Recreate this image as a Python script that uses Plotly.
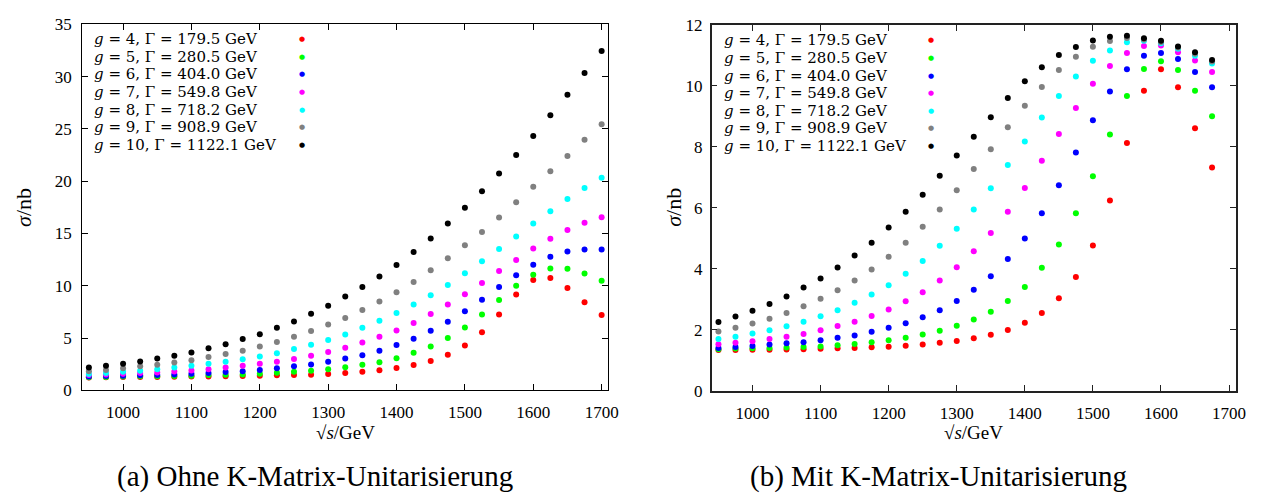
import plotly.graph_objects as go

# ---------------- data ----------------
energy_a = [950, 975, 1000, 1025, 1050, 1075, 1100, 1125, 1150, 1175, 1200, 1225, 1250, 1275, 1300,
            1325, 1350, 1375, 1400, 1425, 1450, 1475, 1500, 1525, 1550, 1575, 1600, 1625, 1650, 1675, 1700]
energy_b = [950, 975, 1000, 1025, 1050, 1075, 1100, 1125, 1150, 1175, 1200, 1225, 1250, 1275, 1300,
            1325, 1350, 1375, 1400, 1425, 1450, 1475, 1500, 1525, 1550, 1575, 1600, 1625, 1650, 1675]

g_values = [4, 5, 6, 7, 8, 9, 10]
widths = ["179.5", "280.5", "404.0", "549.8", "718.2", "908.9", "1122.1"]
colors = ["#ff0000", "#00ff00", "#0000ff", "#ff00ff", "#00ffff", "#808080", "#000000"]

# (a) ohne K-Matrix-Unitarisierung
sigma_a_g4 = [1.23, 1.26, 1.29, 1.29, 1.29, 1.30, 1.32, 1.33, 1.35, 1.38, 1.41, 1.44, 1.47, 1.50, 1.56,
              1.66, 1.78, 1.93, 2.15, 2.42, 2.82, 3.40, 4.29, 5.55, 7.27, 9.17, 10.55, 10.74, 9.79, 8.44, 7.21]
sigma_a_g5 = [1.26, 1.29, 1.32, 1.35, 1.35, 1.38, 1.41, 1.47, 1.50, 1.53, 1.60, 1.69, 1.78, 1.87, 2.02,
              2.21, 2.45, 2.70, 3.07, 3.59, 4.20, 5.00, 6.01, 7.27, 8.65, 10.00, 11.07, 11.66, 11.63, 11.17, 10.49]
sigma_a_g6 = [1.32, 1.38, 1.41, 1.44, 1.47, 1.53, 1.60, 1.66, 1.75, 1.84, 1.96, 2.12, 2.30, 2.48, 2.73,
              3.04, 3.37, 3.80, 4.33, 4.94, 5.71, 6.56, 7.58, 8.68, 9.88, 11.01, 12.02, 12.79, 13.28, 13.47, 13.47]
sigma_a_g7 = [1.47, 1.53, 1.60, 1.66, 1.72, 1.81, 1.90, 2.02, 2.18, 2.36, 2.55, 2.73, 3.00, 3.31, 3.68,
              4.08, 4.57, 5.12, 5.74, 6.44, 7.30, 8.22, 9.20, 10.28, 11.41, 12.48, 13.56, 14.51, 15.34, 16.04, 16.56]
sigma_a_g8 = [1.56, 1.66, 1.78, 1.87, 2.02, 2.18, 2.36, 2.55, 2.73, 2.98, 3.25, 3.56, 3.96, 4.36, 4.82,
              5.34, 5.98, 6.66, 7.39, 8.22, 9.11, 10.09, 11.20, 12.36, 13.53, 14.72, 15.95, 17.12, 18.31, 19.35, 20.33]
sigma_a_g9 = [1.84, 1.96, 2.12, 2.30, 2.45, 2.67, 2.88, 3.19, 3.47, 3.80, 4.20, 4.63, 5.12, 5.67, 6.29,
              6.93, 7.70, 8.50, 9.39, 10.37, 11.50, 12.64, 13.87, 15.15, 16.53, 18.00, 19.48, 20.95, 22.42, 23.98, 25.46]
sigma_a_g10 = [2.20, 2.36, 2.55, 2.76, 3.04, 3.31, 3.62, 4.02, 4.42, 4.91, 5.37, 5.98, 6.60, 7.33, 8.10,
               8.99, 9.89, 10.90, 12.00, 13.23, 14.52, 15.96, 17.46, 19.04, 20.73, 22.51, 24.32, 26.32, 28.28, 30.34, 32.46]

# (b) mit K-Matrix-Unitarisierung
sigma_b_g4 = [1.33, 1.33, 1.34, 1.34, 1.35, 1.36, 1.37, 1.39, 1.40, 1.42, 1.44, 1.47, 1.51, 1.57, 1.63,
              1.72, 1.83, 1.99, 2.23, 2.55, 3.03, 3.73, 4.76, 6.24, 8.12, 9.84, 10.54, 9.95, 8.61, 7.32]
sigma_b_g5 = [1.36, 1.38, 1.39, 1.40, 1.41, 1.43, 1.45, 1.49, 1.53, 1.59, 1.65, 1.73, 1.84, 1.96, 2.13,
              2.33, 2.59, 2.94, 3.40, 4.03, 4.79, 5.82, 7.03, 8.40, 9.67, 10.55, 10.81, 10.52, 9.84, 9.00]
sigma_b_g6 = [1.40, 1.43, 1.46, 1.51, 1.55, 1.59, 1.65, 1.73, 1.81, 1.93, 2.06, 2.21, 2.41, 2.64, 2.94,
              3.31, 3.75, 4.32, 4.99, 5.82, 6.74, 7.81, 8.87, 9.81, 10.54, 10.99, 11.08, 10.88, 10.45, 9.95]
sigma_b_g7 = [1.52, 1.57, 1.62, 1.69, 1.77, 1.86, 1.98, 2.12, 2.26, 2.45, 2.66, 2.93, 3.23, 3.61, 4.05,
              4.57, 5.17, 5.87, 6.65, 7.54, 8.42, 9.27, 10.07, 10.65, 11.08, 11.31, 11.32, 11.10, 10.83, 10.45]
sigma_b_g8 = [1.69, 1.77, 1.87, 1.98, 2.11, 2.26, 2.44, 2.64, 2.88, 3.15, 3.46, 3.83, 4.25, 4.75, 5.31,
              5.94, 6.64, 7.40, 8.17, 8.96, 9.67, 10.31, 10.82, 11.16, 11.43, 11.48, 11.40, 11.22, 10.99, 10.73]
sigma_b_g9 = [1.94, 2.06, 2.20, 2.36, 2.55, 2.77, 3.01, 3.29, 3.61, 3.97, 4.39, 4.85, 5.38, 5.94, 6.57,
              7.27, 7.92, 8.64, 9.35, 9.96, 10.52, 10.95, 11.28, 11.47, 11.57, 11.52, 11.44, 11.26, 11.05, 10.80]
sigma_b_g10 = [2.25, 2.43, 2.62, 2.84, 3.09, 3.38, 3.68, 4.04, 4.43, 4.85, 5.35, 5.87, 6.43, 7.05, 7.71,
               8.33, 8.97, 9.60, 10.15, 10.61, 11.01, 11.27, 11.49, 11.61, 11.64, 11.56, 11.48, 11.29, 11.10, 10.85]

x_ticks = [1000, 1100, 1200, 1300, 1400, 1500, 1600, 1700]
y_ticks_a = [0, 5, 10, 15, 20, 25, 30, 35]
y_ticks_b = [0, 2, 4, 6, 8, 10, 12]

caption_a = "(a) Ohne K-Matrix-Unitarisierung"
caption_b = "(b) Mit K-Matrix-Unitarisierung"
x_title = "√<i>s</i>/GeV"
y_title = "<i>σ</i>/nb"

series_a = [sigma_a_g4, sigma_a_g5, sigma_a_g6, sigma_a_g7, sigma_a_g8, sigma_a_g9, sigma_a_g10]
series_b = [sigma_b_g4, sigma_b_g5, sigma_b_g6, sigma_b_g7, sigma_b_g8, sigma_b_g9, sigma_b_g10]

# ---------------- layout helpers ----------------
W, H = 1268, 499
FONT = "Liberation Serif"
LEG_FONT = "DejaVu Serif"


def px(x):
    return x / W


def py(y):
    return 1 - y / H


fig = go.Figure()
for g, col, ys in zip(g_values, colors, series_a):
    fig.add_trace(go.Scatter(x=energy_a, y=ys, mode="markers", name=f"g = {g}",
                             marker=dict(color=col, size=6, line=dict(width=0)),
                             xaxis="x", yaxis="y", showlegend=False))
for g, col, ys in zip(g_values, colors, series_b):
    fig.add_trace(go.Scatter(x=energy_b, y=ys, mode="markers", name=f"g = {g}",
                             marker=dict(color=col, size=6, line=dict(width=0)),
                             xaxis="x2", yaxis="y2", showlegend=False))


def axis_style(lw, lc):
    return dict(showline=True, linecolor=lc, linewidth=lw, mirror="ticks",
                ticks="inside", ticklen=6, tickcolor=lc, tickwidth=1,
                showgrid=False, zeroline=False,
                tickfont=dict(family=FONT, size=17, color="black"))


fig.update_layout(
    width=W, height=H,
    margin=dict(l=0, r=0, t=0, b=0),
    paper_bgcolor="white", plot_bgcolor="white",
    font=dict(family=FONT, size=17, color="black"),
    showlegend=False,
    xaxis=dict(domain=[px(82.7), px(613.3)], range=[940, 1710], anchor="y",
               tickvals=x_ticks, ticklabelstandoff=6, **axis_style(1, "black")),
    yaxis=dict(domain=[py(396.5), py(16)], range=[0, 35], anchor="x",
               tickvals=y_ticks_a, ticklabelstandoff=6, **axis_style(1, "black")),
    xaxis2=dict(domain=[px(717.3), px(1245.7)], range=[940, 1710], anchor="y2",
                tickvals=x_ticks, ticklabelstandoff=6, **axis_style(1.6, "#222222")),
    yaxis2=dict(domain=[py(396.7), py(16.5)], range=[0, 12], anchor="x2",
                tickvals=y_ticks_b, ticklabelstandoff=4, **axis_style(1.6, "#222222")),
)

ann = []
# axis titles
for cx in [348, 981.5]:
    ann.append(dict(x=px(cx), y=py(440), xref="paper", yref="paper", text=x_title,
                    showarrow=False, xanchor="center", yanchor="middle",
                    font=dict(family=FONT, size=19)))
for cx in [23, 679]:
    ann.append(dict(x=px(cx), y=py(206), xref="paper", yref="paper", text=y_title,
                    showarrow=False, xanchor="center", yanchor="middle", textangle=-90,
                    font=dict(family=FONT, size=22)))
# captions
for cx, cap in [(317, caption_a), (946, caption_b)]:
    ann.append(dict(x=px(cx), y=py(486), xref="paper", yref="paper", text=cap,
                    showarrow=False, xanchor="center", yanchor="middle",
                    font=dict(family=FONT, size=29)))
# legends (text + coloured dot on the right, gnuplot style)
for (tx, bx, y0) in [(93, 304, 31.3), (727.7, 938.3, 32.7)]:
    for i, (g, w, col) in enumerate(zip(g_values, widths, colors)):
        yy = y0 + i * 18.3
        ann.append(dict(x=px(tx), y=py(yy), xref="paper", yref="paper",
                        text=f"<i>g</i> = {g}, Γ = {w} GeV", showarrow=False,
                        xanchor="left", yanchor="middle",
                        font=dict(family=LEG_FONT, size=15, color="black")))
        ann.append(dict(x=px(bx), y=py(yy), xref="paper", yref="paper",
                        text="●", showarrow=False, xanchor="center", yanchor="middle",
                        font=dict(family="DejaVu Sans", size=7, color=col)))

fig.update_layout(annotations=ann)
fig.write_html("out.html")
